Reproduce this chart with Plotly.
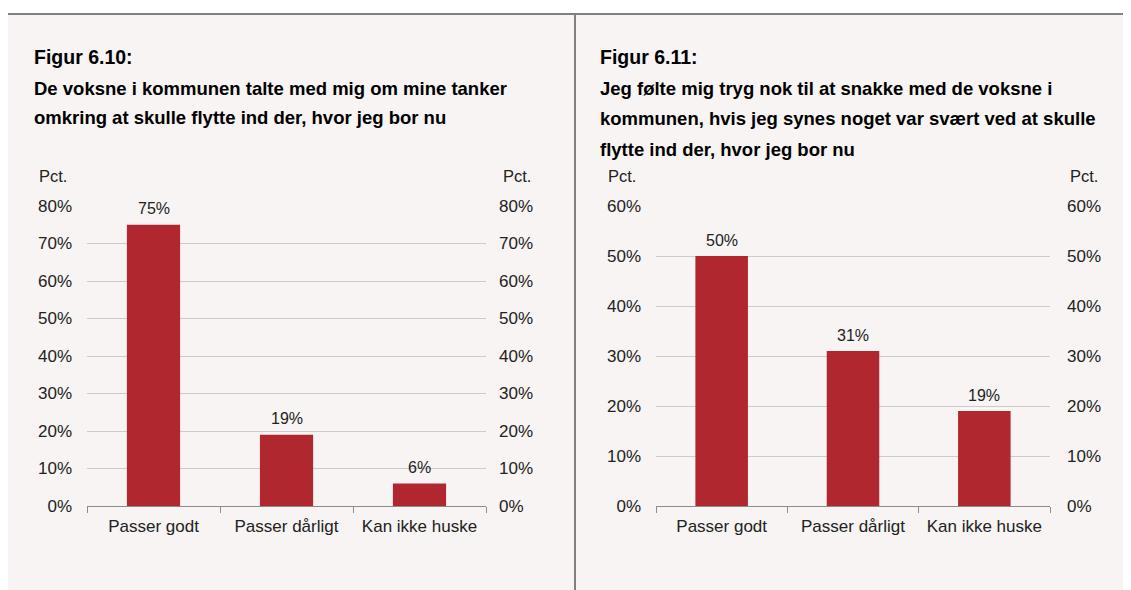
import plotly.graph_objects as go

W, H = 1131, 590

categories = ["Passer godt", "Passer dårligt", "Kan ikke huske"]
values_610 = [75, 19, 6]
values_611 = [50, 31, 19]
labels_610 = ["75%", "19%", "6%"]
labels_611 = ["50%", "31%", "19%"]

title_610 = ["Figur 6.10:",
             "De voksne i kommunen talte med mig om mine tanker",
             "omkring at skulle flytte ind der, hvor jeg bor nu"]
title_611 = ["Figur 6.11:",
             "Jeg følte mig tryg nok til at snakke med de voksne i",
             "kommunen, hvis jeg synes noget var svært ved at skulle",
             "flytte ind der, hvor jeg bor nu"]

BAR = "#b0272f"
BG = "#f7f4f3"
GRID = "#cccccc"
AX = "#8c8c8c"
TXT = "#222222"
FONT = "Liberation Sans, Arial, sans-serif"

OFF = 8  # page body margin


def px(x):
    return (x - OFF) / W


def py(y):
    return 1 - (y - OFF) / H


fig = go.Figure()

fig.add_trace(go.Bar(x=categories, y=values_610,
                     marker=dict(color=BAR, line=dict(width=0)), xaxis="x", yaxis="y",
                     width=0.4, hoverinfo="skip", showlegend=False))
fig.add_trace(go.Scatter(x=categories, y=values_610, mode="markers", marker=dict(opacity=0),
                         xaxis="x", yaxis="y2", hoverinfo="skip", showlegend=False))
fig.add_trace(go.Bar(x=categories, y=values_611,
                     marker=dict(color=BAR, line=dict(width=0)), xaxis="x2", yaxis="y3",
                     width=0.4, hoverinfo="skip", showlegend=False))
fig.add_trace(go.Scatter(x=categories, y=values_611, mode="markers", marker=dict(opacity=0),
                         xaxis="x2", yaxis="y4", hoverinfo="skip", showlegend=False))

xcommon = dict(type="category", range=[-0.5, 2.5], showline=True, linecolor=AX, linewidth=1,
               ticks="outside", tickson="boundaries", ticklen=6, tickcolor=AX,
               ticklabelstandoff=5,
               tickfont=dict(size=17, color=TXT), showgrid=False, zeroline=False,
               fixedrange=True, automargin=False)
ycommon = dict(dtick=10, ticksuffix="%", tickfont=dict(size=17, color=TXT), zeroline=False,
               showline=False, ticks="", fixedrange=True, automargin=False)

y0, ytop = py(506), py(206)

fig.update_layout(
    width=W, height=H, margin=dict(l=0, r=0, t=0, b=0, pad=0, autoexpand=False),
    paper_bgcolor=BG, plot_bgcolor=BG, font=dict(family=FONT, color=TXT),
    xaxis=dict(domain=[px(87), px(486)], anchor="y", **xcommon),
    yaxis=dict(domain=[y0, ytop], range=[0, 80], anchor="x", showgrid=True, gridcolor=GRID,
               ticklabelstandoff=14, **ycommon),
    yaxis2=dict(overlaying="y", side="right", anchor="x", range=[0, 80], showgrid=False,
                ticklabelstandoff=12, **ycommon),
    xaxis2=dict(domain=[px(656), px(1050)], anchor="y3", **xcommon),
    yaxis3=dict(domain=[y0, ytop], range=[0, 60], anchor="x2", showgrid=True, gridcolor=GRID,
                ticklabelstandoff=14, **ycommon),
    yaxis4=dict(overlaying="y3", side="right", anchor="x2", range=[0, 60], showgrid=False,
                ticklabelstandoff=16, **ycommon),
)

annotations = []
# value labels above bars, placed in data coordinates
for xa, ya, vals, labs in [("x", "y", values_610, labels_610), ("x2", "y3", values_611, labels_611)]:
    for c, v, t in zip(categories, vals, labs):
        annotations.append(dict(text=t, x=c, y=v, xref=xa, yref=ya, xanchor="center",
                                yanchor="middle", yshift=16, showarrow=False,
                                font=dict(size=16, color=TXT)))

ys_610 = [57, 88.5, 117.5]
ys_611 = [57, 88.5, 118.5, 149]
for lines, ys, x0 in [(title_610, ys_610, 32), (title_611, ys_611, 598)]:
    for i, (line, yy) in enumerate(zip(lines, ys)):
        annotations.append(dict(text="<b>%s</b>" % line, x=px(x0), y=py(yy), xref="paper",
                                yref="paper", xanchor="left", yanchor="middle", showarrow=False,
                                font=dict(size=19.5 if i == 0 else 18.5, color="#000000")))
for xx, anchor in [(37, "left"), (533, "right"), (606, "left"), (1100, "right")]:
    annotations.append(dict(text="Pct.", x=px(xx), y=py(176), xref="paper", yref="paper",
                            xanchor=anchor, yanchor="middle", showarrow=False,
                            font=dict(size=16.5, color=TXT)))
fig.update_layout(annotations=annotations)

shapes = [
    dict(type="rect", xref="paper", yref="paper", x0=0, x1=1, y0=py(13), y1=1,
         fillcolor="#ffffff", line=dict(width=0), layer="above"),
    dict(type="line", xref="paper", yref="paper", x0=0, x1=1, y0=py(14), y1=py(14),
         line=dict(color="#808080", width=2), layer="above"),
    dict(type="line", xref="paper", yref="paper", x0=px(575), x1=px(575), y0=0, y1=py(14),
         line=dict(color="#808080", width=2), layer="above"),
]
fig.update_layout(shapes=shapes)

fig.write_html("out.html")
